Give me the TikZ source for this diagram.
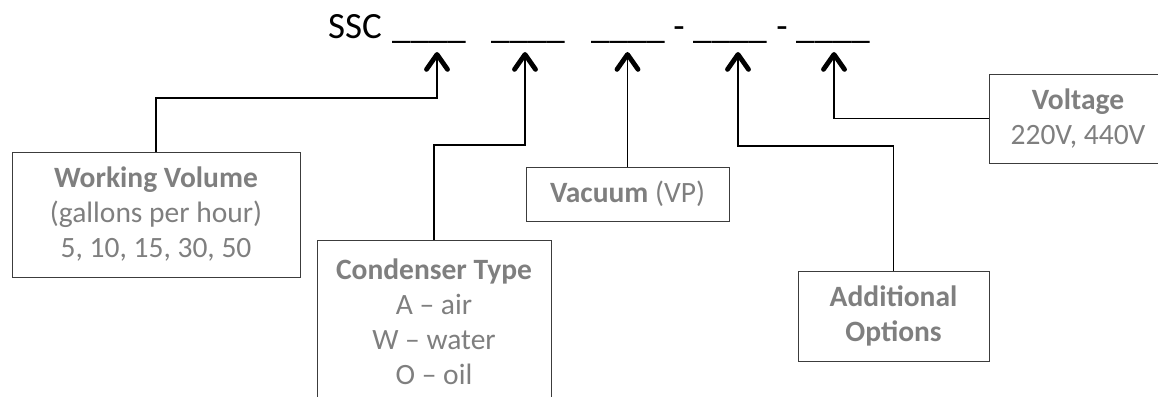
\documentclass[tikz,border=0pt]{standalone}
\usepackage{fontspec}
\setmainfont{Carlito}
\usepackage{xcolor}
\usepackage{tikz}
\usetikzlibrary{arrows.meta}
\definecolor{labelgray}{RGB}{127,127,127}
\definecolor{framegray}{RGB}{60,60,60}

\begin{document}
\begin{tikzpicture}[x=1pt, y=-1pt,
  box/.style={draw=framegray, line width=0.9pt, text=labelgray, align=center, inner sep=0pt, font=\fontsize{29.5}{35}\selectfont},
  blank/.style={anchor=base west, inner sep=0pt, font=\fontsize{37}{40}\selectfont},
  feed/.style={line width=1.3pt, -{Straight Barb[length=15pt, width=21pt, line width=4.8pt, round]}}]
  \useasboundingbox (0,0) rectangle (1158,396);
  \clip (0,0) rectangle (1158,396);
  % part number
  \node[blank] (ssc) at (328,38) {SSC};
  \node[blank] (b1) at (392,38) {\_\_\_\_};
  \node[blank] (b2) at (491,38) {\_\_\_\_};
  \node[blank] (b3) at (591,38) {\_\_\_\_};
  \node[blank, anchor=base] (d1) at (679,38) {-};
  \node[blank] (b4) at (693,38) {\_\_\_\_};
  \node[blank, anchor=base] (d2) at (782,38) {-};
  \node[blank] (b5) at (796,38) {\_\_\_\_};
  % option boxes
  \node[box, minimum width=288pt, minimum height=125pt] (vol) at (156,214.5) {\textbf{Working Volume}\\(gallons per hour)\\5, 10, 15, 30, 50};
  \node[box, minimum width=234pt, minimum height=164pt] (cond) at (434,322) {\textbf{Condenser Type}\\A -- air\\W -- water\\O -- oil};
  \node[box, minimum width=203pt, minimum height=54pt] (vac) at (627.5,194) {\textbf{Vacuum} (VP)};
  \node[box, minimum width=191pt, minimum height=90pt] (addl) at (893.5,316) {\textbf{Additional}\\\textbf{Options}};
  \node[box, minimum width=178pt, minimum height=89pt] (volt) at (1078,118.5) {\textbf{Voltage}\\220V, 440V};
  % arrow tips and bends
  \coordinate (t1) at (437,52);   \coordinate (k1) at (437,98);
  \coordinate (t2) at (525,52);   \coordinate (k2) at (525,145);
  \coordinate (t3) at (627.5,52);
  \coordinate (t4) at (738,52);   \coordinate (k4) at (738,146);
  \coordinate (t5) at (834,52);   \coordinate (k5) at (834,118.5);
  \draw[feed] (vol.north) |- (k1) -- (t1);
  \draw[feed] (cond.north) |- (k2) -- (t2);
  \draw[feed] (vac.north) -- (t3);
  \draw[feed] (addl.north) |- (k4) -- (t4);
  \draw[feed] (volt.west) -- (k5) -- (t5);
\end{tikzpicture}
\end{document}
